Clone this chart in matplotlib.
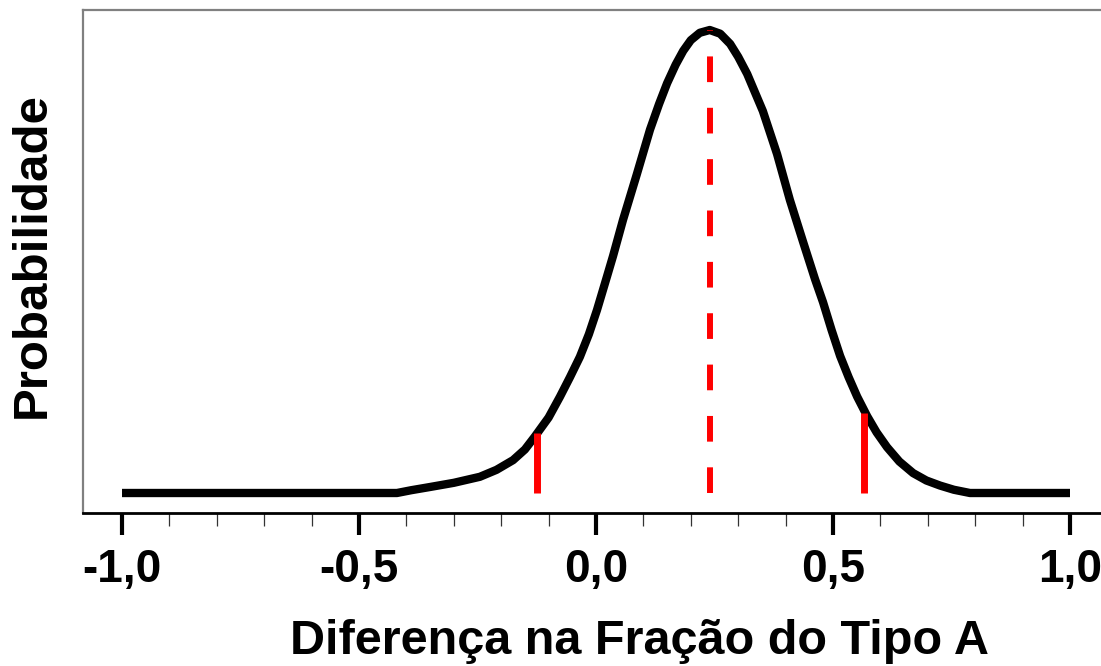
import matplotlib
matplotlib.use("Agg")
import matplotlib.pyplot as plt
from matplotlib.ticker import MultipleLocator

# ── Data ─────────────────────────────────────────────────────────────────────
diff_x = [-1.0, -0.42, -0.39, -0.35, -0.30, -0.245, -0.21, -0.175, -0.15,
          -0.129, -0.10, -0.076, -0.055, -0.034, -0.015, 0.002, 0.023, 0.036,
          0.057, 0.086, 0.114, 0.133, 0.150, 0.168, 0.184, 0.200, 0.219, 0.240,
          0.262, 0.283, 0.300, 0.319, 0.352, 0.382, 0.409, 0.437, 0.462, 0.479,
          0.497, 0.515, 0.533, 0.551, 0.572, 0.592, 0.614, 0.640, 0.669, 0.697,
          0.726, 0.755, 0.789, 1.0]
prob_y = [0.0, 0.0, 0.006, 0.013, 0.022, 0.035, 0.050, 0.071, 0.094,
          0.122, 0.163, 0.208, 0.250, 0.294, 0.343, 0.395, 0.467, 0.512,
          0.590, 0.688, 0.785, 0.840, 0.885, 0.925, 0.955, 0.978, 0.994, 1.0,
          0.992, 0.970, 0.942, 0.905, 0.825, 0.732, 0.633, 0.542, 0.462, 0.412,
          0.352, 0.296, 0.250, 0.208, 0.166, 0.131, 0.099, 0.068, 0.043, 0.027,
          0.016, 0.007, 0.0, 0.0]

ci_low, ci_low_h = -0.125, 0.13
ci_high, ci_high_h = 0.565, 0.173
mode_x, mode_h = 0.24, 1.0

tick_pos = [-1.0, -0.5, 0.0, 0.5, 1.0]
tick_lbl = ["-1,0", "-0,5", "0,0", "0,5", "1,0"]

# ── Figure ───────────────────────────────────────────────────────────────────
W, H = 1101, 666
fig = plt.figure(figsize=(W / 100, H / 100), dpi=100)
ax = fig.add_axes([83 / W, (H - 513) / H, (W - 83) / W, (513 - 10) / H])

ax.plot(diff_x, prob_y, color="black", linewidth=6,
        solid_capstyle="butt", solid_joinstyle="round", zorder=3)

red = "#ff0000"
ax.plot([ci_low, ci_low], [0, ci_low_h], color=red, linewidth=5,
        solid_capstyle="butt", zorder=4)
ax.plot([ci_high, ci_high], [0, ci_high_h], color=red, linewidth=5,
        solid_capstyle="butt", zorder=4)
ax.plot([mode_x, mode_x], [0, mode_h], color=red, linewidth=4.3,
        linestyle=(0, (4.3, 4.3)), zorder=4)

ax.set_xlim(-1.0823, 1.0654)
ax.set_ylim(-20 / 463, 1 + 20 / 463)

# ── Axes styling ─────────────────────────────────────────────────────────────
for side in ("top", "left"):
    ax.spines[side].set_color("#808080")
    ax.spines[side].set_linewidth(1.6)
ax.spines["bottom"].set_color("black")
ax.spines["bottom"].set_linewidth(2.0)
ax.spines["right"].set_visible(False)

font = ["Liberation Sans", "DejaVu Sans"]
ax.set_yticks([])
ax.set_xticks(tick_pos)
ax.set_xticklabels(tick_lbl, fontsize=33, fontweight="bold", family=font)
ax.xaxis.set_minor_locator(MultipleLocator(0.1))
ax.tick_params(axis="x", which="major", direction="out", length=16,
               width=3, color="black", pad=9)
ax.tick_params(axis="x", which="minor", direction="out", length=9,
               width=0.9, color="#333333")

ax.set_ylabel("Probabilidade", fontsize=35.5, fontweight="bold", family=font)
ax.yaxis.set_label_coords(-0.028, 0.513)

ax.set_xlabel("Diferença na Fração do Tipo A", fontsize=35, fontweight="bold",
              family=font, va="baseline")
ax.xaxis.set_label_coords(0.547, -0.280)

fig.savefig("out.png", dpi=100)
